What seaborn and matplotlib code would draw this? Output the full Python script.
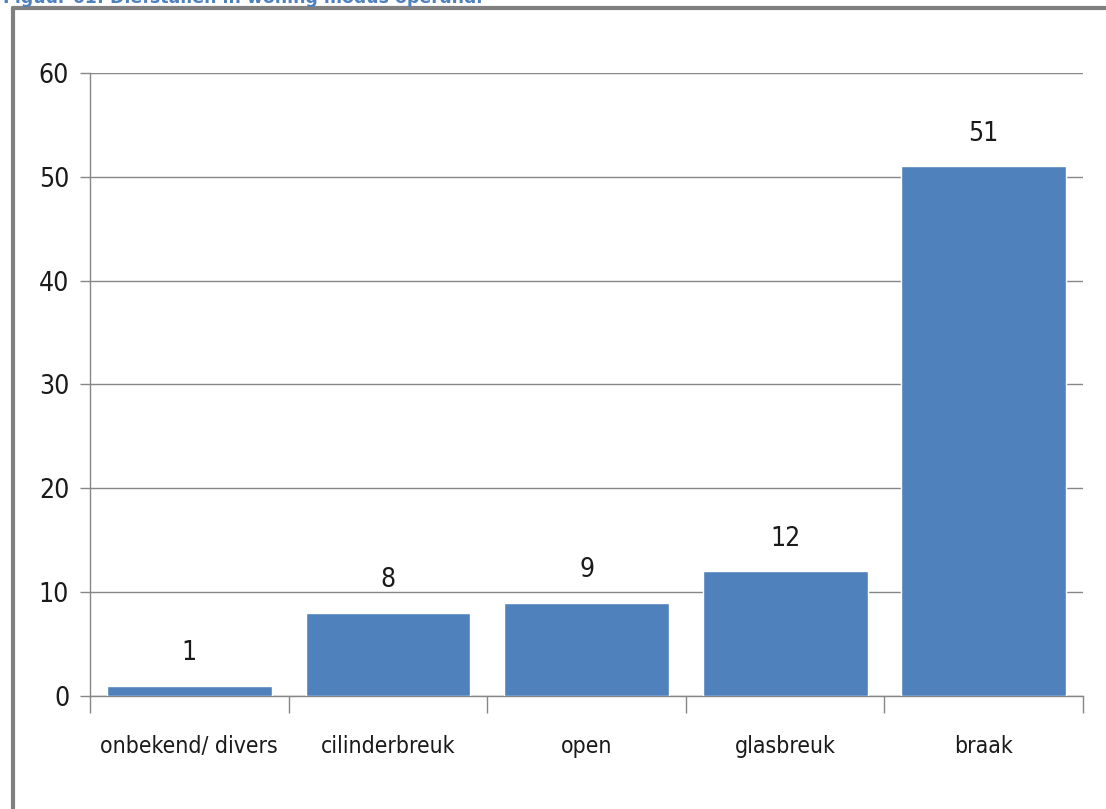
import matplotlib
matplotlib.use("Agg")
import matplotlib.pyplot as plt
import matplotlib.lines as mlines
import pandas as pd
import seaborn as sns

categories = ["onbekend/ divers", "cilinderbreuk", "open", "glasbreuk", "braak"]
values = [1, 8, 9, 12, 51]
yticks = [0, 10, 20, 30, 40, 50, 60]
title = "Figuur 61: Diefstallen in woning modus operandi"

sns.set_theme(style="white")
plt.rcParams["font.family"] = ["DejaVu Sans"]
plt.rcParams["font.stretch"] = "condensed"

df = pd.DataFrame({"categorie": categories, "aantal": values})

fig = plt.figure(figsize=(11.06, 8.09), dpi=100)
ax = fig.add_axes([0.0814, 0.1397, 0.8978, 0.7701])

sns.barplot(data=df, x="categorie", y="aantal", color="#4F81BD",
            saturation=1, width=0.83, ax=ax, zorder=3)

ax.set_ylim(0, 60)
ax.set_xlim(-0.5, len(categories) - 0.5)
ax.set_yticks(yticks)
ax.yaxis.grid(True, color="#868686", linewidth=1, zorder=0)
ax.set_axisbelow(True)
ax.set_xlabel("")
ax.set_ylabel("")

for s in ["top", "right"]:
    ax.spines[s].set_visible(False)
for s in ["left", "bottom"]:
    ax.spines[s].set_color("#868686")
    ax.spines[s].set_linewidth(1)

ax.tick_params(axis="y", length=7, color="#868686", width=1, pad=8,
               labelsize=19, labelcolor="#1a1a1a", left=True)
ax.tick_params(axis="x", which="major", length=0, pad=28, labelsize=16.5,
               labelcolor="#1a1a1a")
ax.set_xticks([i - 0.5 for i in range(len(categories) + 1)], minor=True)
ax.tick_params(axis="x", which="minor", length=12, color="#868686",
               width=1, bottom=True)

ax.bar_label(ax.containers[0], padding=14, fontsize=19, color="#1a1a1a")

# outer frame of the chart area (top and left edge visible)
fig.add_artist(mlines.Line2D([13 / 1106, 1], [1 - 8 / 809, 1 - 8 / 809],
                             color="#808080", linewidth=3))
fig.add_artist(mlines.Line2D([13 / 1106, 13 / 1106], [0, 1 - 8 / 809],
                             color="#808080", linewidth=3))

# caption, cut off at the top edge as in the source picture
fig.text(3 / 1106, 1 - 3 / 809, title, color="#4F81BD", fontsize=12.5,
         fontweight="bold", fontstretch="normal", va="baseline", ha="left")

fig.savefig("out.png", dpi=100)
